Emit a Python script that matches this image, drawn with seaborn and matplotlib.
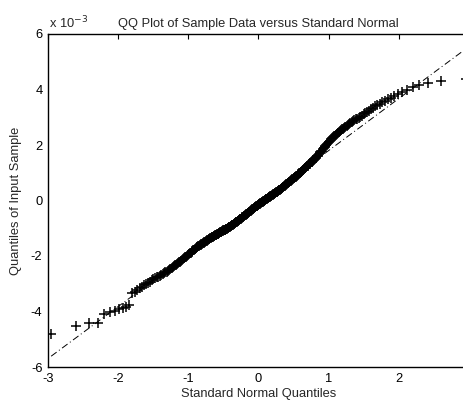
import statistics
import numpy as np
import pandas as pd
import matplotlib
matplotlib.use("Agg")
import matplotlib.pyplot as plt
import seaborn as sns

# Sorted sample values (units of 1e-3)
lower_tail = [-4.82, -4.53, -4.43, -4.40, -4.10, -4.02, -3.97, -3.92, -3.87, -3.82,
              -3.77, -3.35, -3.28, -3.22, -3.16]
lower_body = [-3.10, -3.05, -3.01, -2.96, -2.92, -2.88, -2.84, -2.81, -2.77, -2.74,
              -2.71, -2.68, -2.65, -2.62, -2.59, -2.56, -2.53, -2.50, -2.47, -2.44,
              -2.41, -2.37, -2.34, -2.31, -2.28, -2.25, -2.22, -2.20, -2.17, -2.14,
              -2.11, -2.08, -2.05, -2.02, -1.99, -1.96, -1.93, -1.90, -1.88, -1.85,
              -1.82, -1.80, -1.77, -1.74, -1.72, -1.69, -1.67, -1.65, -1.63, -1.62,
              -1.60, -1.58, -1.56, -1.54, -1.52, -1.50, -1.49, -1.47, -1.45, -1.43,
              -1.41, -1.40, -1.38, -1.36, -1.34]
center_low = [-1.33, -1.31, -1.30, -1.28, -1.27, -1.26, -1.24, -1.23, -1.21, -1.20,
              -1.19, -1.17, -1.16, -1.15, -1.14, -1.12, -1.11, -1.10, -1.08, -1.07,
              -1.06, -1.05, -1.03, -1.02, -1.01, -0.99, -0.98, -0.97, -0.96, -0.945,
              -0.93, -0.91, -0.90, -0.88, -0.87, -0.85, -0.84, -0.82, -0.81, -0.79,
              -0.77, -0.76, -0.74, -0.73, -0.71, -0.69, -0.68, -0.66, -0.65, -0.63,
              -0.61, -0.60, -0.58, -0.57, -0.55, -0.53, -0.52, -0.50, -0.49, -0.47,
              -0.45, -0.44, -0.42, -0.40, -0.39, -0.37, -0.35, -0.34, -0.32, -0.305,
              -0.29, -0.275, -0.26, -0.245, -0.23, -0.215, -0.20, -0.185, -0.17, -0.154]
center_high = [-0.14, -0.125, -0.11, -0.10, -0.085, -0.07, -0.055, -0.04, -0.03, -0.015,
               0.00, 0.015, 0.03, 0.04, 0.055, 0.07, 0.08, 0.095, 0.11, 0.12,
               0.136, 0.15, 0.165, 0.18, 0.19, 0.205, 0.22, 0.235, 0.25, 0.26,
               0.277, 0.29, 0.305, 0.32, 0.335, 0.35, 0.365, 0.38, 0.395, 0.41,
               0.426, 0.44, 0.46, 0.48, 0.50, 0.515, 0.535, 0.55, 0.57, 0.59,
               0.605, 0.62, 0.64, 0.66, 0.68, 0.695, 0.71, 0.73, 0.75, 0.77,
               0.785, 0.80, 0.82, 0.84, 0.86, 0.88, 0.90, 0.92, 0.94, 0.96,
               0.976, 1.00, 1.02, 1.045, 1.07, 1.09, 1.115, 1.14, 1.16, 1.18]
upper_body = [1.205, 1.23, 1.25, 1.28, 1.30, 1.33, 1.35, 1.38, 1.40, 1.43,
              1.45, 1.48, 1.50, 1.53, 1.56, 1.59, 1.62, 1.66, 1.70, 1.73,
              1.77, 1.80, 1.84, 1.88, 1.92, 1.96, 2.00, 2.03, 2.07, 2.11,
              2.16, 2.20, 2.24, 2.28, 2.31, 2.34, 2.37, 2.40, 2.43, 2.46,
              2.49, 2.53, 2.56, 2.59, 2.63, 2.66, 2.70, 2.73, 2.77, 2.80,
              2.83, 2.86, 2.89, 2.92, 2.95, 2.98, 3.02, 3.06, 3.10, 3.14,
              3.19, 3.23, 3.28, 3.33, 3.39]
upper_tail = [3.44, 3.49, 3.54, 3.59, 3.65, 3.71, 3.76, 3.83, 3.90, 3.98,
              4.08, 4.15, 4.22, 4.30, 4.38]

x_ticks = [-3, -2, -1, 0, 1, 2, 3]
x_tick_labels = ["-3", "-2", "-1", "0", "1", "2", ""]
y_ticks = [-6, -4, -2, 0, 2, 4, 6]
y_tick_labels = ["-6", "-4", "-2", "0", "2", "4", "6"]

title = "QQ Plot of Sample Data versus Standard Normal"
xlabel = "Standard Normal Quantiles"
ylabel = "Quantiles of Input Sample"

# ---- build data ----
sample = np.array(lower_tail + lower_body + center_low + center_high + upper_body + upper_tail) * 1e-3
n = len(sample)
nd = statistics.NormalDist()
theo = np.array([nd.inv_cdf((i - 0.5) / n) for i in range(1, n + 1)])
df = pd.DataFrame({"theo": theo, "sample": sample})

# reference line through the quartiles (as MATLAB qqplot)
q1x, q3x = np.percentile(theo, [25, 75])
q1y, q3y = np.percentile(sample, [25, 75])
slope = (q3y - q1y) / (q3x - q1x)
cx, cy = (q1x + q3x) / 2, (q1y + q3y) / 2
ext_x = np.array([theo.min(), theo.max()])
ext_y = cy + slope * (ext_x - cx)
mid_x = np.array([q1x, q3x])
mid_y = cy + slope * (mid_x - cx)

# ---- plot ----
sns.set_style("white")
plt.rcParams["font.family"] = ["Liberation Sans", "DejaVu Sans"]
fs = 9.3

fig = plt.figure(figsize=(4.64, 4.0), dpi=100)
ax = fig.add_axes([48 / 464, 1 - 367 / 400, 421 / 464, 333 / 400])

sns.scatterplot(data=df, x="theo", y="sample", marker="+", s=42, color="black",
                linewidth=1.1, ax=ax, legend=False, zorder=3)
ax.plot(ext_x, ext_y, color="black", lw=0.7, linestyle=(0, (7, 3, 1, 3)), zorder=2)
ax.plot(mid_x, mid_y, color="black", lw=0.7, zorder=2)

ax.set_xlim(-3, 3)
ax.set_ylim(-6e-3, 6e-3)
ax.set_xticks(x_ticks)
ax.set_xticklabels(x_tick_labels, fontsize=fs)
ax.set_yticks([t * 1e-3 for t in y_ticks])
ax.set_yticklabels(y_tick_labels, fontsize=fs)
ax.tick_params(direction="in", length=3.5, width=0.8, top=True, right=True,
               pad=4, colors="black")
for sp in ax.spines.values():
    sp.set_visible(True)
    sp.set_color("black")
    sp.set_linewidth(1.0)

ax.set_title(title, fontsize=fs, pad=5)
ax.set_xlabel(xlabel, fontsize=fs, labelpad=2.5)
ax.set_ylabel(ylabel, fontsize=fs, labelpad=6)
fig.text(49 / 464, 1 - 28 / 400, "x 10$^{-3}$", fontsize=fs, ha="left", va="baseline")

fig.savefig("out.png", dpi=100, facecolor="white")
